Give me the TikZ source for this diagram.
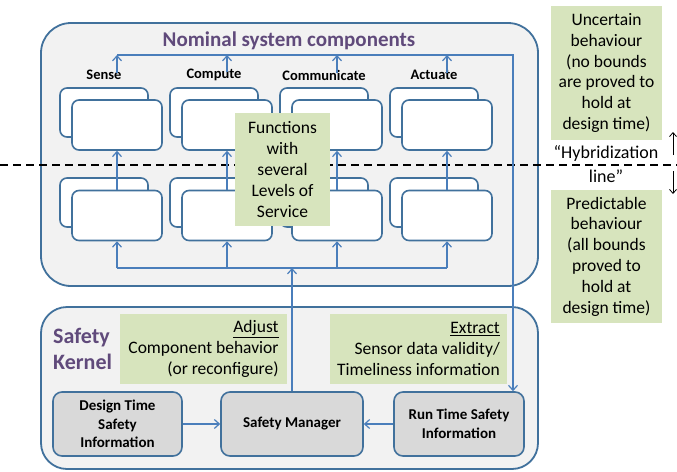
\documentclass[tikz,border=0pt]{standalone}
\usepackage{fontspec}
\setmainfont{Carlito}
\usetikzlibrary{arrows.meta}

\definecolor{boxblue}{RGB}{65,113,156}
\definecolor{arrowblue}{RGB}{74,126,187}
\definecolor{kernelpurple}{RGB}{96,74,123}
\definecolor{leafgreen}{RGB}{215,228,189}
\definecolor{panelgray}{RGB}{242,242,242}
\definecolor{nodegray}{RGB}{217,217,217}

\tikzset{
  panel/.style={draw=boxblue, line width=1.8pt, fill=panelgray, rounded corners=30pt, inner sep=0pt},
  backbox/.style={draw=boxblue, line width=1.6pt, fill=white, rounded corners=7pt, minimum width=88pt, minimum height=49pt},
  frontbox/.style={backbox, minimum width=90pt, minimum height=50pt},
  safebox/.style={draw=boxblue, line width=1.6pt, fill=nodegray, rounded corners=9pt, align=center, minimum height=64pt, font=\bfseries\fontsize{15}{18.5}\selectfont},
  note/.style={fill=leafgreen, align=center, font=\fontsize{17.5}{20.8}\selectfont},
  colname/.style={inner sep=0pt, font=\bfseries\fontsize{14.5}{17}\selectfont},
  flow/.style={draw=arrowblue, line width=1.2pt, -{Straight Barb[length=5pt,width=9pt]}},
  wire/.style={draw=arrowblue, line width=1.2pt},
  hint/.style={draw=black, line width=0.8pt, -{Straight Barb[length=4pt,width=7pt]}},
}

\begin{document}
\begin{tikzpicture}[x=1pt, y=-1pt]
  \useasboundingbox (0,0) rectangle (677,471);

  % the two panels
  \node[panel, minimum width=497pt, minimum height=263pt] (nominal) at (289.5,154.5) {};
  \node[panel, rounded corners=26pt, minimum width=497pt, minimum height=162pt] (kernel) at (289.5,388) {};

  \node[text=kernelpurple, font=\bfseries\fontsize{21}{25}\selectfont] (title) at (289,41) {Nominal system components};
  \node[anchor=west, inner sep=0pt, align=left, text=kernelpurple, font=\bfseries\fontsize{22}{26.5}\selectfont] (kname) at (53,349) {Safety\\Kernel};

  % hybridization line
  \coordinate (hybW) at (0,165);
  \coordinate (hybE) at (677,165);
  \draw[line width=1.3pt, dash pattern=on 8pt off 5pt] (hybW) -- (hybE);

  % functions, upper and lower levels
  \node[backbox] (senseUb) at (104,112.5) {};
  \node[frontbox] (senseU) at (117,125) {};
  \node[backbox] (senseLb) at (104,202.5) {};
  \node[frontbox] (senseL) at (117,215.5) {};

  \node[backbox] (compUb) at (214,112.5) {};
  \node[frontbox] (compU) at (227,125) {};
  \node[backbox] (compLb) at (214,202.5) {};
  \node[frontbox] (compL) at (227,215.5) {};

  \node[backbox] (commUb) at (324,112.5) {};
  \node[frontbox] (commU) at (337,125) {};
  \node[backbox] (commLb) at (324,202.5) {};
  \node[frontbox] (commL) at (337,215.5) {};

  \node[backbox] (actUb) at (434,112.5) {};
  \node[frontbox] (actU) at (447,125) {};
  \node[backbox] (actLb) at (434,202.5) {};
  \node[frontbox] (actL) at (447,215.5) {};

  \node[colname] (sense) at (104,75) {Sense};
  \node[colname] (comp) at (214,75) {Compute};
  \node[colname] (comm) at (324,75) {Communicate};
  \node[colname] (act) at (434,75) {Actuate};

  % safety kernel boxes
  \node[safebox, minimum width=129pt] (dtsi) at (117.5,424) {Design Time\\Safety\\Information};
  \node[safebox, minimum width=142pt] (mgr) at (292,424) {Safety Manager};
  \node[safebox, minimum width=130pt] (rtsi) at (459,424) {Run Time Safety\\Information};

  % connectors
  \coordinate (busT) at (513,55);
  \coordinate (busB) at (292,268);

  \draw[flow] (senseL.north) -- (senseU.south);
  \draw[flow] (compL.north) -- (compU.south);
  \draw[flow] (commL.north) -- (commU.south);
  \draw[flow] (actL.north) -- (actU.south);

  \draw[wire] (senseL.south |- busB) -- (actL.south |- busB);
  \draw[flow] (senseL.south |- busB) -- (senseL.south);
  \draw[flow] (compL.south |- busB) -- (compL.south);
  \draw[flow] (commL.south |- busB) -- (commL.south);
  \draw[flow] (actL.south |- busB) -- (actL.south);
  \draw[flow] (mgr.north) -- (busB);

  \draw[flow] ([yshift=-3pt]senseU.north |- sense.north) -- (senseU.north |- busT);
  \draw[flow] ([yshift=-3pt]compU.north |- comp.north) -- (compU.north |- busT);
  \draw[flow] ([yshift=-3pt]commU.north |- comm.north) -- (commU.north |- busT);
  \draw[flow] ([yshift=-3pt]actU.north |- act.north) -- (actU.north |- busT);
  \draw[flow] (senseU.north |- busT) -- (busT) -- (busT |- rtsi.north);

  \draw[flow] (dtsi) -- (mgr);
  \draw[flow] (rtsi) -- (mgr);

  % notes
  \node[note, minimum width=95pt, minimum height=113pt] (levels) at (282.5,169.5) {Functions\\with\\several\\Levels of\\Service};
  \node[note, align=right, minimum width=167pt, minimum height=70pt] (adjust) at (203.5,349) {\underline{Adjust}\\Component behavior\\(or reconfigure)};
  \node[note, align=right, minimum width=177pt, minimum height=70pt] (extract) at (418.5,349) {\underline{Extract}\\Sensor data validity/\\Timeliness information};

  \node[note, minimum width=111pt, minimum height=134pt] (uncertain) at (606.5,73) {Uncertain\\behaviour\\(no bounds\\are proved to\\hold at\\design time)};
  \node[note, minimum width=111pt, minimum height=133pt] (predictable) at (606.5,256.5) {Predictable\\behaviour\\(all bounds\\proved to\\hold at\\design time)};

  \node[align=center, font=\fontsize{18}{24}\selectfont] (hyb) at (606,164) {“Hybridization\\line”};

  \coordinate (upFrom) at (673,155);
  \coordinate (upTo) at (673,132);
  \coordinate (downFrom) at (673,171);
  \coordinate (downTo) at (673,194);
  \draw[hint] (upFrom) -- (upTo);
  \draw[hint] (downFrom) -- (downTo);
\end{tikzpicture}
\end{document}
